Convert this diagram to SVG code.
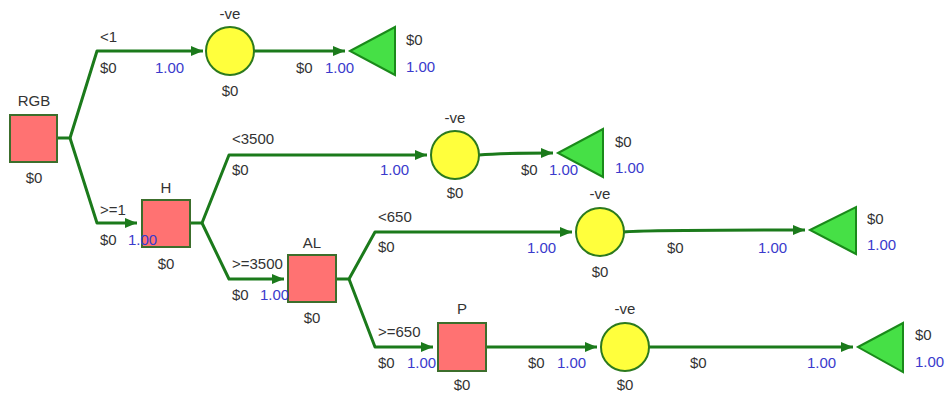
<svg xmlns="http://www.w3.org/2000/svg" width="945" height="394" viewBox="0 0 945 394">
<defs>
<marker id="arr" viewBox="0 0 12 10" refX="12" refY="5" markerWidth="12" markerHeight="10" markerUnits="userSpaceOnUse" orient="auto">
<path d="M0,0 L12,5 L0,10 Z" fill="#1b7a1b"/>
</marker>
<style>
text{font-family:"Liberation Sans",Arial,sans-serif;font-size:15px;fill:#333}
.b{fill:#3a3acc}
.m{text-anchor:middle}
.ln{fill:none;stroke:#1b7a1b;stroke-width:3;stroke-linejoin:round}
.sq{fill:#ff7272;stroke:#3c6e2c;stroke-width:2}
.ci{fill:#ffff3c;stroke:#2c7a1e;stroke-width:2}
.tr{fill:#46e046;stroke:#1a8a1a;stroke-width:2}
</style>
</defs>
<rect width="945" height="394" fill="#fff"/>
<g id="connectors">
<path class="ln" d="M57,138 H70 L97,51 H203" marker-end="url(#arr)"/>
<path class="ln" d="M70,138 L97,223 H137" marker-end="url(#arr)"/>
<path class="ln" d="M254,51 H345" marker-end="url(#arr)"/>
<path class="ln" d="M190,223 H202 L229,155 H427" marker-end="url(#arr)"/>
<path class="ln" d="M202,223 L229,279 H284" marker-end="url(#arr)"/>
<path class="ln" d="M479,155 Q500,153 553,153" marker-end="url(#arr)"/>
<path class="ln" d="M336,279 H349 L375,232 H572" marker-end="url(#arr)"/>
<path class="ln" d="M349,279 L375,347 H433" marker-end="url(#arr)"/>
<path class="ln" d="M624,232 Q640,230 805,230" marker-end="url(#arr)"/>
<path class="ln" d="M486,347 H597" marker-end="url(#arr)"/>
<path class="ln" d="M649,347 H853" marker-end="url(#arr)"/>
</g>
<g id="RGB">
<rect class="sq" x="10" y="115" width="47" height="47"/>
<text x="34" y="106" class="m">RGB</text>
<text x="34" y="183" class="m">$0</text>
</g>
<g id="H">
<rect class="sq" x="142" y="200" width="48" height="47"/>
<text x="166" y="193" class="m">H</text>
<text x="166" y="269" class="m">$0</text>
</g>
<g id="AL">
<rect class="sq" x="288" y="255" width="48" height="47"/>
<text x="312" y="248" class="m">AL</text>
<text x="312" y="323" class="m">$0</text>
</g>
<g id="P">
<rect class="sq" x="438" y="323" width="48" height="48"/>
<text x="462" y="314" class="m">P</text>
<text x="462" y="390" class="m">$0</text>
</g>
<g id="chance1">
<circle class="ci" cx="230" cy="51" r="24"/>
<text x="230" y="19" class="m">-ve</text>
<text x="230" y="96" class="m">$0</text>
</g>
<g id="chance2">
<circle class="ci" cx="455" cy="155" r="24"/>
<text x="455" y="123" class="m">-ve</text>
<text x="455" y="198" class="m">$0</text>
</g>
<g id="chance3">
<circle class="ci" cx="600" cy="232" r="24"/>
<text x="600" y="199" class="m">-ve</text>
<text x="600" y="277" class="m">$0</text>
</g>
<g id="chance4">
<circle class="ci" cx="625" cy="347" r="24"/>
<text x="625" y="314" class="m">-ve</text>
<text x="625" y="390" class="m">$0</text>
</g>
<g id="end1">
<polygon class="tr" points="350,51 395,27 395,75"/>
<text x="406" y="45">$0</text>
<text x="406" y="72" class="b">1.00</text>
</g>
<g id="end2">
<polygon class="tr" points="558,153 603,129 603,177"/>
<text x="615" y="147">$0</text>
<text x="615" y="173" class="b">1.00</text>
</g>
<g id="end3">
<polygon class="tr" points="810,230 856,207 856,254"/>
<text x="867" y="224">$0</text>
<text x="867" y="250" class="b">1.00</text>
</g>
<g id="end4">
<polygon class="tr" points="858,347 903,323 903,372"/>
<text x="915" y="340">$0</text>
<text x="915" y="367" class="b">1.00</text>
</g>
<g id="labels">
<text x="100" y="42">&lt;1</text>
<text x="100" y="73">$0</text>
<text x="155" y="73" class="b">1.00</text>
<text x="296" y="73">$0</text>
<text x="325" y="73" class="b">1.00</text>
<text x="100" y="215">&gt;=1</text>
<text x="100" y="245">$0</text>
<text x="128" y="245" class="b">1.00</text>
<text x="232" y="144">&lt;3500</text>
<text x="232" y="175">$0</text>
<text x="380" y="175" class="b">1.00</text>
<text x="521" y="175">$0</text>
<text x="549" y="175" class="b">1.00</text>
<text x="232" y="269">&gt;=3500</text>
<text x="232" y="300">$0</text>
<text x="260" y="300" class="b">1.00</text>
<text x="378" y="222">&lt;650</text>
<text x="378" y="252">$0</text>
<text x="527" y="253" class="b">1.00</text>
<text x="667" y="253">$0</text>
<text x="758" y="253" class="b">1.00</text>
<text x="378" y="337">&gt;=650</text>
<text x="378" y="368">$0</text>
<text x="407" y="368" class="b">1.00</text>
<text x="528" y="368">$0</text>
<text x="557" y="368" class="b">1.00</text>
<text x="690" y="368">$0</text>
<text x="807" y="368" class="b">1.00</text>
</g>
</svg>
